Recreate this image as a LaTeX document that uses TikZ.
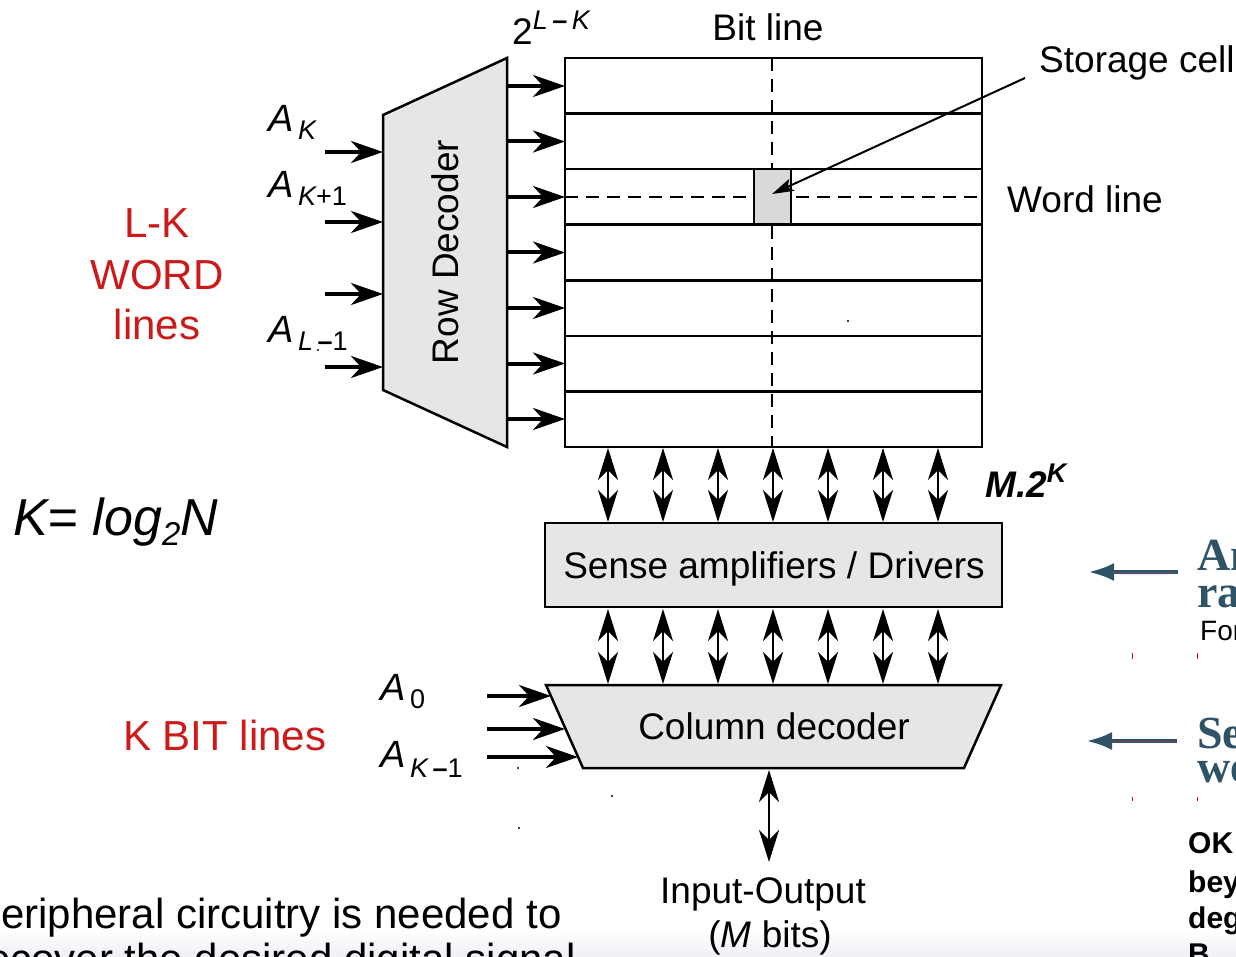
\documentclass[tikz,border=0pt]{standalone}
\usepackage{fontspec}
\setmainfont{Liberation Sans}
\newfontfamily\serifbold{Liberation Serif}
\usetikzlibrary{arrows.meta}
\definecolor{redtxt}{RGB}{204,26,26}
\definecolor{slate}{RGB}{47,83,102}
\definecolor{slatered}{RGB}{120,70,90}
\definecolor{boxgray}{RGB}{230,230,230}
\definecolor{cellgray}{RGB}{217,217,217}
\definecolor{bottomgray}{RGB}{238,240,245}
\newcommand{\fs}[1]{\fontsize{#1}{#1}\selectfont}
\begin{document}
\begin{tikzpicture}[x=1pt,y=-1pt,
  box/.style={draw=black,line width=2.5pt,fill=boxgray},
  gridline/.style={line width=2.5pt},
  dashline/.style={line width=2.5pt,dash pattern=on 13pt off 8pt},
  bigarr/.style={line width=4pt,-{Stealth[length=32pt,width=22pt,inset=10pt]}},
  biarr/.style={line width=2.8pt,{Stealth[length=32pt,width=20pt,inset=10pt]}-{Stealth[length=32pt,width=20pt,inset=10pt]}},
  ptr/.style={line width=2pt,-{Stealth[length=22pt,width=13pt,inset=5pt]}},
  sidearr/.style={line width=4.5pt,draw=slate,-{Latex[length=26pt,width=18pt]}},
  lbl/.style={inner sep=0pt,font=\fs{37}},
  redlbl/.style={inner sep=0pt,font=\fs{42},text=redtxt},
  addr/.style={inner sep=0pt,font=\fs{38}\itshape},
  slatelbl/.style={inner sep=0pt,font=\serifbold\bfseries\fs{46},text=slate},
  side/.style={inner sep=0pt,anchor=base west},
]
\useasboundingbox (0,0) rectangle (1236,957);
\clip (0,0) rectangle (1236,957);
\shade[top color=white,bottom color=bottomgray] (0,930) rectangle (1236,957);

% ---------- memory array ----------
\draw[dashline] (772,58) -- (772,447);
\draw[dashline] (565,197) -- (982,197);
\fill[cellgray] (754,169.1) rectangle (791,224.7);
\draw[gridline] (754,169.1) -- (754,224.7);
\draw[gridline] (791,169.1) -- (791,224.7);
\foreach \i in {1,...,6}{
  \draw[gridline] (565,58+\i*55.57) -- (982,58+\i*55.57);
}
\draw[gridline] (565,58) rectangle (982,447);
\coordinate (cell) at (772,194);

% ---------- row decoder ----------
\draw[box] (383,115) -- (507,58) -- (507,447) -- (383,390) -- cycle;
\node[lbl,rotate=90] (rowdec) at (445,252) {Row Decoder};
\foreach \i in {0,...,6}{
  \coordinate (do\i) at (507,86+\i*55.5);
  \coordinate (ai\i) at (565,86+\i*55.5);
  \draw[bigarr] (do\i) -- (ai\i);
}
\foreach \y [count=\j] in {152,222,294,367}{
  \coordinate (ri\j) at (325,\y);
  \coordinate (rd\j) at (383,\y);
  \draw[bigarr] (ri\j) -- (rd\j);
}

% ---------- sense amplifiers ----------
\draw[box] (545,523) rectangle (1002,607);
\node[lbl,anchor=base] (sense) at (774,578) {Sense amplifiers / Drivers};
\foreach \x [count=\j] in {608,663,718,773,828,883,938}{
  \coordinate (at\j) at (\x,448);
  \coordinate (st\j) at (\x,522);
  \coordinate (sb\j) at (\x,609);
  \coordinate (ct\j) at (\x,684);
  \draw[biarr] (at\j) -- (st\j);
  \draw[biarr] (sb\j) -- (ct\j);
}

% ---------- column decoder ----------
\draw[box] (546,685) -- (1001,685) -- (964,768) -- (583,768) -- cycle;
\node[lbl,anchor=base] (coldec) at (774,739) {Column decoder};
\coordinate (ci1) at (487,696); \coordinate (ce1) at (551,696);
\coordinate (ci2) at (487,729); \coordinate (ce2) at (565,729);
\coordinate (ci3) at (487,757); \coordinate (ce3) at (578,757);
\foreach \j in {1,2,3}{ \draw[bigarr] (ci\j) -- (ce\j); }
\coordinate (iotop) at (769,770);
\coordinate (iobot) at (769,862);
\draw[biarr] (iotop) -- (iobot);

% ---------- labels ----------
\node[lbl,anchor=base west] (lk) at (512,45) {2\raisebox{15pt}{\fs{27}\itshape L\,\upshape\bfseries\textendash\,\itshape\mdseries K}};
\node[lbl,anchor=base] (bitline) at (768,41) {Bit line};
\node[lbl,anchor=base west] (storage) at (1039,73) {Storage cell};
\coordinate (ptrstart) at (1025,78);
\draw[ptr] (ptrstart) -- (cell);
\node[lbl,anchor=base west] (wordline) at (1007,213) {Word line};
\node[inner sep=0pt,anchor=base west,font=\fs{37}\bfseries\itshape] (m2k) at (985,497) {M.2\raisebox{15pt}{\fs{27}K}};

\node[addr,anchor=base west] (ak) at (268,132) {A\raisebox{-8pt}{\fs{27}\,K}};
\node[addr,anchor=base west] (ak1) at (268,198) {A\raisebox{-8pt}{\fs{27}\,K\upshape+1}};
\node[addr,anchor=base west] (al1) at (268,342) {A\raisebox{-9pt}{\fs{27}\,L\,\upshape\bfseries\textendash\mdseries1}};
\node[addr,anchor=base west] (a0) at (380,700) {A\raisebox{-8pt}{\fs{27}\,\upshape0}};
\node[addr,anchor=base west] (akm1) at (380,767) {A\raisebox{-10pt}{\fs{27}\,K\,\upshape\bfseries\textendash\mdseries1}};

\node[lbl,anchor=base] (io1) at (763,903) {Input-Output};
\node[lbl,anchor=base] (io2) at (770,947) {(\textit{M} bits)};

\node[redlbl,anchor=base] (r1) at (157,238) {L-K};
\node[redlbl,anchor=base] (r2) at (157,290) {WORD};
\node[redlbl,anchor=base] (r3) at (157,340) {lines};
\node[redlbl,anchor=base west] (r4) at (123,750) {K BIT lines};

\node[inner sep=0pt,anchor=base west,font=\fs{52}\itshape] (klog) at (13,535) {K= log\raisebox{-10pt}{\fs{33}2}N};

\node[inner sep=0pt,anchor=base west,font=\fs{42}] (periph1) at (-27,928) {Peripheral circuitry is needed to};
\node[inner sep=0pt,anchor=base west,font=\fs{42}] (periph2) at (-27,973) {recover the desired digital signal};

% ---------- right side ----------
\coordinate (s1a) at (1178,572); \coordinate (s1b) at (1088,572);
\coordinate (s2a) at (1177,741); \coordinate (s2b) at (1086,741);
\draw[sidearr] (s1a) -- (s1b);
\draw[sidearr] (s2a) -- (s2b);
\draw[slatered,line width=1pt] (1176,572) -- (1112,572);
\draw[slatered,line width=1pt] (1175,741) -- (1110,741);
\node[slatelbl,side] (an) at (1197,570) {An};
\node[slatelbl,side] (ra) at (1197,607) {ra};
\node[side,font=\fs{28}] (for) at (1200,640) {For};
\node[slatelbl,side] (se) at (1197,748) {Se};
\node[slatelbl,side] (we) at (1197,782) {we};
\node[side,font=\fs{30}\bfseries] (ok) at (1188,853) {OK};
\node[side,font=\fs{30}\bfseries] (bey) at (1188,892) {bey};
\node[side,font=\fs{30}\bfseries] (deg) at (1188,928) {deg};
\node[side,font=\fs{30}\bfseries] (bb) at (1188,964) {B};

% small marks
\foreach \x in {1132,1197}{
  \draw[red,line width=1pt] (\x,653) -- (\x,659);
  \draw[red,line width=1pt] (\x,797) -- (\x,801);
}
\foreach \p in {(848,321),(518,768),(612,796),(519,828),(318,350)}{
  \fill \p circle (1.2pt);
}
\end{tikzpicture}
\end{document}
